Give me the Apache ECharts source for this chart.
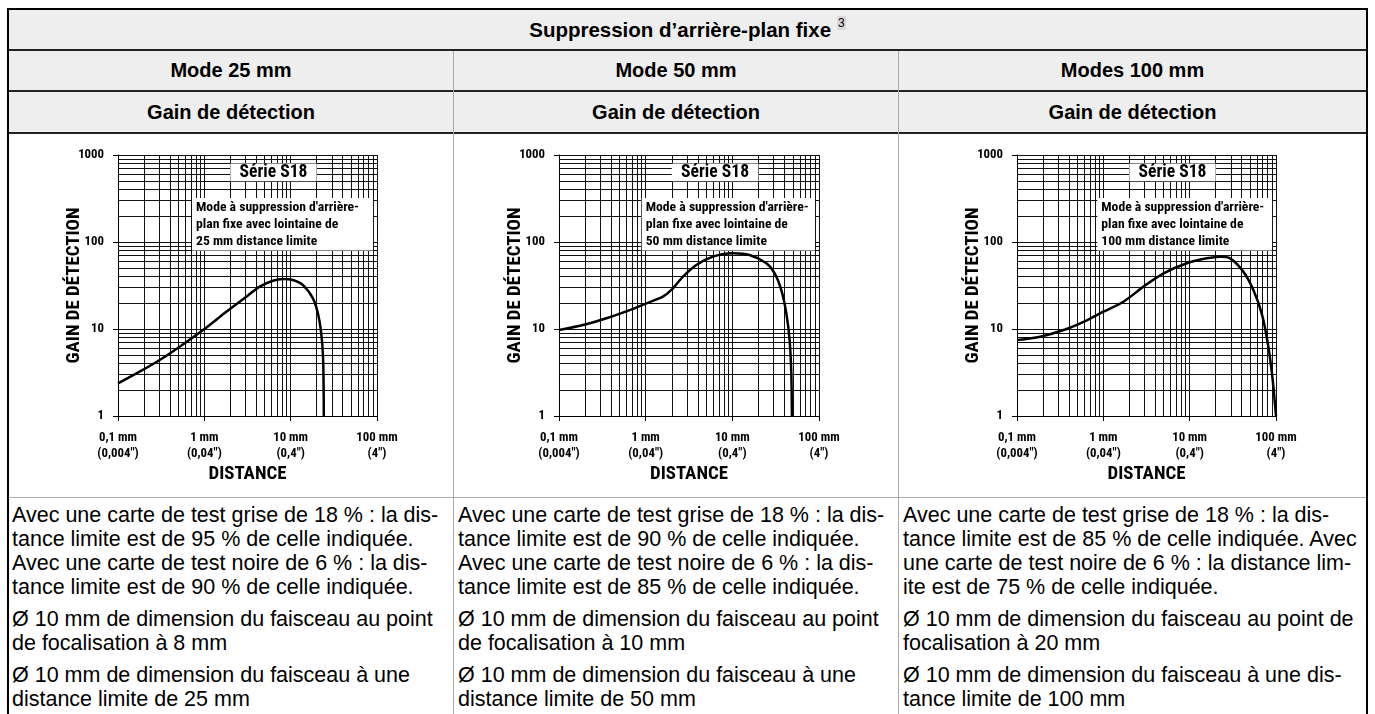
<!DOCTYPE html>
<html>
<head>
<meta charset="utf-8">
<script src="https://cdn.jsdelivr.net/npm/echarts@6/dist/echarts.min.js"></script>
<style>
body{margin:0;background:#fff;width:1375px;height:714px;overflow:hidden;position:relative;font-family:'Liberation Sans',Arial,sans-serif;color:#000}
.abs{position:absolute}
.hdr{position:absolute;background:#eeeeee;display:flex;align-items:center;justify-content:center;font-weight:bold;font-size:20px;white-space:nowrap}
.txt{position:absolute;font-size:21.5px;line-height:24px;white-space:nowrap}
.txt p{margin:0 0 8px 0}
.sup{font-weight:normal;font-size:12px;background:#d9d9d9;position:relative;top:-7px;margin-left:6px;padding:0 1px}
#chart{position:absolute;left:0;top:0;width:1375px;height:714px;pointer-events:none}
</style>
</head>
<body>
<!-- header rows -->
<div class="hdr" style="left:9px;top:10px;width:1357px;height:39px;font-size:20.5px">Suppression d’arrière-plan fixe<span class="sup">3</span></div>
<div class="hdr" style="left:9px;top:51px;width:444px;height:39px">Mode 25 mm</div>
<div class="hdr" style="left:454px;top:51px;width:444px;height:39px">Mode 50 mm</div>
<div class="hdr" style="left:899px;top:51px;width:467px;height:39px">Modes 100 mm</div>
<div class="hdr" style="left:9px;top:92px;width:444px;height:40px">Gain de détection</div>
<div class="hdr" style="left:454px;top:92px;width:444px;height:40px">Gain de détection</div>
<div class="hdr" style="left:899px;top:92px;width:467px;height:40px">Gain de détection</div>
<!-- lines -->
<div class="abs" style="left:7px;top:8px;width:1361px;height:2px;background:#000"></div>
<div class="abs" style="left:7px;top:8px;width:2px;height:706px;background:#000"></div>
<div class="abs" style="left:1366px;top:8px;width:2px;height:706px;background:#000"></div>
<div class="abs" style="left:9px;top:49px;width:1357px;height:2px;background:#222"></div>
<div class="abs" style="left:9px;top:90px;width:1357px;height:2px;background:#222"></div>
<div class="abs" style="left:9px;top:132px;width:1357px;height:2px;background:#222"></div>
<div class="abs" style="left:9px;top:497px;width:1357px;height:1px;background:#aaa"></div>
<div class="abs" style="left:453px;top:51px;width:1px;height:663px;background:#aaa"></div>
<div class="abs" style="left:898px;top:51px;width:1px;height:663px;background:#aaa"></div>
<!-- text cells -->
<div class="txt" style="left:12px;top:503px">
<p>Avec une carte de test grise de 18 % : la dis-<br>tance limite est de 95 % de celle indiquée.<br>Avec une carte de test noire de 6 % : la dis-<br>tance limite est de 90 % de celle indiquée.</p>
<p>Ø 10 mm de dimension du faisceau au point<br>de focalisation à 8 mm</p>
<p>Ø 10 mm de dimension du faisceau à une<br>distance limite de 25 mm</p>
</div>
<div class="txt" style="left:458px;top:503px">
<p>Avec une carte de test grise de 18 % : la dis-<br>tance limite est de 90 % de celle indiquée.<br>Avec une carte de test noire de 6 % : la dis-<br>tance limite est de 85 % de celle indiquée.</p>
<p>Ø 10 mm de dimension du faisceau au point<br>de focalisation à 10 mm</p>
<p>Ø 10 mm de dimension du faisceau à une<br>distance limite de 50 mm</p>
</div>
<div class="txt" style="left:903px;top:503px">
<p>Avec une carte de test grise de 18 % : la dis-<br>tance limite est de 85 % de celle indiquée. Avec<br>une carte de test noire de 6 % : la distance lim-<br>ite est de 75 % de celle indiquée.</p>
<p>Ø 10 mm de dimension du faisceau au point de<br>focalisation à 20 mm</p>
<p>Ø 10 mm de dimension du faisceau à une dis-<br>tance limite de 100 mm</p>
</div>
<div id="chart"></div>
<script>
// ---- data ----
const xTickLabels = ['0,1 mm\n(0,004")', '1 mm\n(0,04")', '10 mm\n(0,4")', '100 mm\n(4")'];
const yTickLabels = ['1', '10', '100', '1000'];
const xAxisName = 'DISTANCE';
const yAxisName = 'GAIN DE DÉTECTION';
const seriesLabel = 'Série S18';
const boxTexts = [
  "Mode à suppression d'arrière-\nplan fixe avec lointaine de\n25 mm distance limite",
  "Mode à suppression d'arrière-\nplan fixe avec lointaine de\n50 mm distance limite",
  "Mode à suppression d'arrière-\nplan fixe avec lointaine de\n100 mm distance limite"
];
// Mode 25 mm
const dist25 = [0.1, 0.178, 0.304, 0.518, 0.966, 1.8, 3.06, 4.38, 6.24, 8.15, 10.6, 13.9, 18.1, 20.7, 22.6, 23.7, 24.1, 24.2];
const gain25 = [2.37, 3.23, 4.4, 6.26, 9.74, 15.8, 23.5, 30.7, 35.9, 37.6, 36.6, 32.0, 22.5, 15.1, 8.9, 4.81, 1.99, 1.0];
// Mode 50 mm
const dist50 = [0.1, 0.189, 0.352, 0.654, 1.02, 1.58, 1.98, 2.7, 3.84, 5.98, 10.2, 15.8, 24.7, 30.8, 36.7, 42.0, 45.8, 47.9, 48.7];
const gain50 = [9.74, 11.1, 13.3, 16.5, 19.7, 23.5, 28.1, 40.0, 54.4, 67.8, 74.1, 70.9, 56.9, 43.6, 28.1, 15.1, 7.47, 3.09, 1.0];
// Modes 100 mm
const dist100 = [0.1, 0.186, 0.347, 0.59, 1.0, 1.71, 2.92, 4.98, 9.27, 15.8, 22.5, 29.4, 41.9, 54.7, 68.3, 81.6, 91.6, 100];
const gain100 = [7.47, 8.16, 9.74, 12.1, 15.8, 20.6, 30.7, 43.6, 56.9, 64.9, 67.8, 64.9, 45.6, 28.1, 15.1, 6.26, 2.59, 1.0];

const curves = [[dist25, gain25], [dist50, gain50], [dist100, gain100]];

// ---- layout / style ----
const grids = [
  {left: 118, top: 155, width: 259, height: 261},
  {left: 559, top: 155, width: 260, height: 261},
  {left: 1017, top: 155, width: 259, height: 261}
];
const boxExtents = [
  {s: [[2, 800], [20, 500]], t: [[0.72, 320], [90, 80]]},
  {s: [[2, 800], [20, 500]], t: [[0.9, 320], [90, 80]]},
  {s: [[2, 800], [20, 500]], t: [[0.85, 320], [90, 80]]}
];

// pick a condensed bold font that exists, then size text to the reference widths
const cv = document.createElement('canvas').getContext('2d');
function w(text, font) { cv.font = font; return cv.measureText(text).width; }
function hasFont(name) {
  const t = 'mmmmmmmmmmlliWWW0123456789';
  return ['monospace', 'serif'].some(b => w(t, `bold 40px "${name}", ${b}`) !== w(t, `bold 40px ${b}`));
}
const cands = ['Liberation Sans Narrow', 'Arial Narrow', 'Roboto Condensed', 'Noto Sans Condensed', 'DejaVu Sans Condensed', 'Liberation Sans'];
const fam = cands.find(hasFont) || 'sans-serif';
const F = `"${fam}", sans-serif`;
function fit(text, target) { return +(40 * target / w(text, `bold 40px ${F}`)).toFixed(2); }
const tickSize = Math.min(14, fit('0,1 mm', 38));
const nameSize = Math.min(19, fit('DISTANCE', 78));
const boxSize = Math.min(15, fit("Mode à suppression d'arrière-", 163));
const s18Size = Math.min(18, fit('Série S18', 68));
const gridColor = '#111';

const minorX = [], minorY = [];
[0.1, 1, 10].forEach(d => { for (let k = 2; k <= 9; k++) minorX.push(+(d * k).toPrecision(3)); });
[1, 10, 100].forEach(d => { for (let k = 2; k <= 9; k++) minorY.push(+(d * k).toPrecision(3)); });

const option = {
  animation: false,
  grid: grids,
  xAxis: grids.map((g, i) => ({
    type: 'log', logBase: 10, min: 0.1, max: 100, gridIndex: i,
    name: xAxisName, nameLocation: 'middle', nameGap: 49,
    nameTextStyle: {fontFamily: F, fontWeight: 'bold', fontSize: nameSize, color: '#000'},
    axisLine: {show: true, lineStyle: {color: '#000', width: 1}},
    axisTick: {show: true, length: 5, lineStyle: {color: '#000', width: 1}},
    axisLabel: {
      margin: 14, fontFamily: F, fontWeight: 'bold', fontSize: tickSize, lineHeight: 16, color: '#000',
      formatter: v => xTickLabels[Math.round(Math.log10(v)) + 1]
    },
    splitLine: {show: true, lineStyle: {color: gridColor, width: 1}}
  })),
  yAxis: grids.map((g, i) => ({
    type: 'log', logBase: 10, min: 1, max: 1000, gridIndex: i,
    name: yAxisName, nameLocation: 'middle', nameRotate: 90, nameGap: 34, nameMoveOverlap: false,
    nameTextStyle: {fontFamily: F, fontWeight: 'bold', fontSize: nameSize, color: '#000'},
    axisLine: {show: true, lineStyle: {color: '#000', width: 1}},
    axisTick: {show: true, length: 5, lineStyle: {color: '#000', width: 1}},
    axisLabel: {
      margin: 14, fontFamily: F, fontWeight: 'bold', fontSize: tickSize, color: '#000',
      formatter: v => yTickLabels[Math.round(Math.log10(v))]
    },
    splitLine: {show: true, lineStyle: {color: gridColor, width: 1}}
  })),
  series: []
};

grids.forEach((g, i) => {
  option.series.push({
    type: 'line', xAxisIndex: i, yAxisIndex: i, data: [], silent: true, z: 1,
    markLine: {
      silent: true, z: 1, symbol: ['none', 'none'], label: {show: false},
      emphasis: {disabled: true},
      lineStyle: {color: gridColor, width: 1, type: 'solid'},
      data: minorX.map(v => ({xAxis: v})).concat(minorY.map(v => ({yAxis: v})))
    }
  });
  const b = boxExtents[i];
  option.series.push({
    type: 'line', xAxisIndex: i, yAxisIndex: i, data: [], silent: true, z: 6,
    markArea: {
      silent: true, z: 6,
      itemStyle: {color: '#fff', opacity: 1},
      emphasis: {disabled: true},
      data: [
        [{name: seriesLabel, coord: b.s[0],
          label: {show: true, position: 'inside', fontFamily: F, fontWeight: 'bold', fontSize: s18Size, color: '#000'}},
         {coord: b.s[1]}],
        [{name: boxTexts[i], coord: b.t[0],
          label: {show: true, position: 'insideLeft', distance: 4, align: 'left', fontFamily: F, fontWeight: 'bold', fontSize: boxSize, lineHeight: 17, color: '#000'}},
         {coord: b.t[1]}]
      ]
    }
  });
  const [xs, ys] = curves[i];
  option.series.push({
    type: 'line', xAxisIndex: i, yAxisIndex: i, z: 10,
    data: xs.map((x, k) => [x, ys[k]]),
    showSymbol: false, symbol: 'none', smooth: 0.3,
    lineStyle: {color: '#000', width: 2.5}
  });
});

const chart = echarts.init(document.getElementById('chart'), null, {renderer: 'canvas'});
chart.setOption(option);
</script>
</body>
</html>
